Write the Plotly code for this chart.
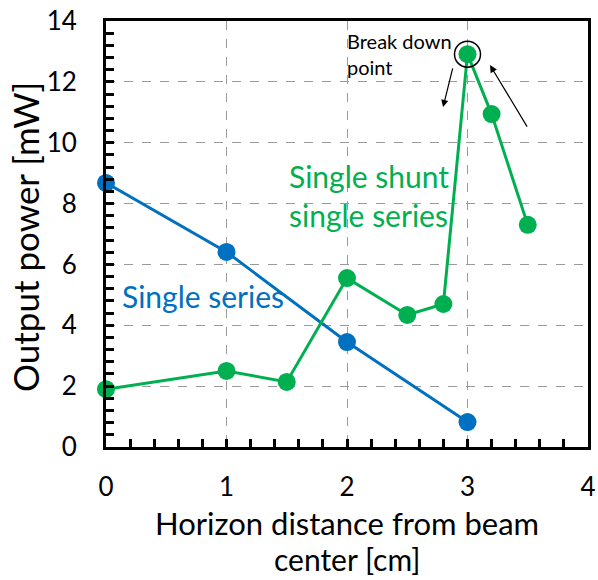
import plotly.graph_objects as go

series_x = [0, 1, 2, 3]
series_y = [8.68, 6.41, 3.45, 0.82]
shunt_x = [0, 1, 1.5, 2, 2.5, 2.8, 3, 3.2, 3.5]
shunt_y = [1.9, 2.5, 2.14, 5.55, 4.34, 4.7, 12.91, 10.94, 7.3]

BLUE = "#0070C0"
GREEN = "#00B050"
FONT = "Lato"

fig = go.Figure()
fig.add_trace(go.Scatter(x=series_x, y=series_y, mode="lines+markers",
                         line=dict(color=BLUE, width=3),
                         marker=dict(color=BLUE, size=18), cliponaxis=False))
fig.add_trace(go.Scatter(x=shunt_x, y=shunt_y, mode="lines+markers",
                         line=dict(color=GREEN, width=3),
                         marker=dict(color=GREEN, size=18), cliponaxis=False))

# break-down circle
fig.add_shape(type="circle", xref="x", yref="y", xsizemode="pixel", ysizemode="pixel",
              xanchor=shunt_x[6], yanchor=shunt_y[6], x0=-13, x1=13, y0=-13, y1=13,
              line=dict(color="black", width=1.5))

# arrows
fig.add_annotation(x=2.797, y=11.17, ax=2.88, ay=12.49, xref="x", yref="y",
                   axref="x", ayref="y", showarrow=True, arrowhead=2, arrowsize=1.2,
                   arrowwidth=1.2, arrowcolor="black", text="")
fig.add_annotation(x=3.187, y=12.55, ax=3.502, ay=10.48, xref="x", yref="y",
                   axref="x", ayref="y", showarrow=True, arrowhead=2, arrowsize=1.2,
                   arrowwidth=1.2, arrowcolor="black", text="")

fig.add_annotation(x=1.983, y=12.9, xref="x", yref="y", xanchor="left", yanchor="middle",
                   text="Break down<br>point", showarrow=False, align="left",
                   font=dict(family=FONT, size=20, color="black"))
fig.add_annotation(x=1.50, y=8.28, xref="x", yref="y", xanchor="left", yanchor="middle",
                   text="Single shunt<br>single series", showarrow=False, align="left",
                   font=dict(family=FONT, size=30, color=GREEN))
fig.add_annotation(x=0.116, y=4.96, xref="x", yref="y", xanchor="left", yanchor="middle",
                   text="Single series", showarrow=False, align="left",
                   font=dict(family=FONT, size=30, color=BLUE))

# axis titles (x title as two lines)
fig.add_annotation(x=0.5, y=-0.178, xref="paper", yref="paper", xanchor="center",
                   yanchor="middle", showarrow=False,
                   text="Horizon distance from beam",
                   font=dict(family=FONT, size=31, color="black"))
fig.add_annotation(x=0.5, y=-0.263, xref="paper", yref="paper", xanchor="center",
                   yanchor="middle", showarrow=False,
                   text="center [cm]",
                   font=dict(family=FONT, size=30, color="black"))
fig.add_annotation(x=-0.168, y=0.493, xref="paper", yref="paper", xanchor="center",
                   yanchor="middle", showarrow=False, textangle=-90,
                   text="Output power [mW]",
                   font=dict(family=FONT, size=35, color="black"))

axis_common = dict(showline=True, linecolor="black", linewidth=3, mirror=True,
                   ticks="inside", ticklen=8, tickwidth=2.5, tickcolor="black",
                   showgrid=True, gridcolor="#9a9a9a", gridwidth=1, griddash="dash",
                   zeroline=False, automargin=False,
                   tickfont=dict(family=FONT, size=26, color="black"))

fig.update_xaxes(range=[0, 4], dtick=1, tick0=0, ticklabelstandoff=15,
                 minor=dict(dtick=0.2, ticks="inside", ticklen=8, tickwidth=2.5,
                            tickcolor="black", showgrid=False),
                 **axis_common)
fig.update_yaxes(range=[0, 14], dtick=2, tick0=0, ticklabelstandoff=21,
                 minor=dict(dtick=0.4, ticks="inside", ticklen=8, tickwidth=2.5,
                            tickcolor="black", showgrid=False),
                 **axis_common)

fig.update_layout(width=598, height=580, showlegend=False,
                  margin=dict(l=106, r=10, t=21, b=133),
                  plot_bgcolor="white", paper_bgcolor="white")

fig.write_html("out.html", config={"displayModeBar": False},
               post_script="document.body.style.margin='0';")
